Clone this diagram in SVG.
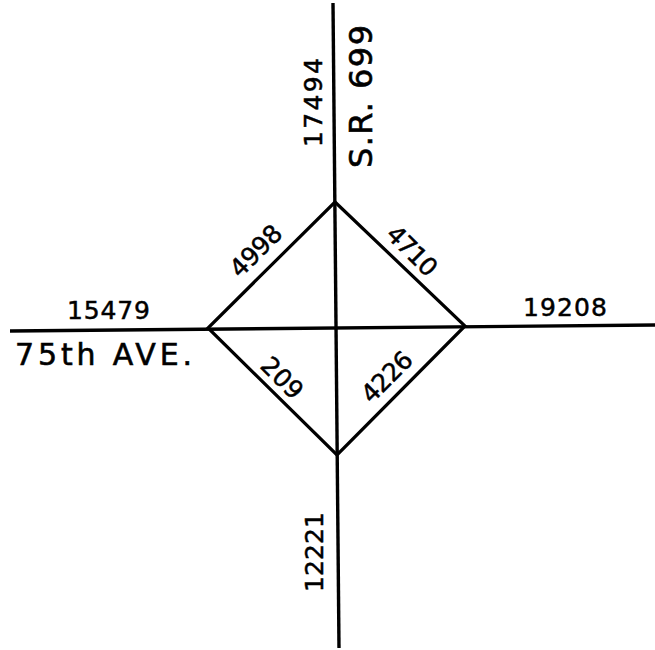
<svg xmlns="http://www.w3.org/2000/svg" width="655" height="650" viewBox="0 0 655 650">
<style>
.road{stroke:#000;stroke-width:3.4;fill:none;stroke-linecap:butt}
.ramp{stroke:#000;stroke-width:3.2;fill:none;stroke-linejoin:miter}
.num{font-family:"DejaVu Sans","Liberation Sans",Arial,sans-serif;font-size:25px;fill:#000;stroke:#000;stroke-width:0.5;text-anchor:middle}
.name{font-family:"DejaVu Sans","Liberation Sans",Arial,sans-serif;fill:#000;stroke:#000;stroke-width:0.6}
</style>
<rect width="655" height="650" fill="#fff"/>
<g id="connectors">
<line class="road" x1="333" y1="3" x2="339" y2="648"/>
<line class="road" x1="10" y1="331" x2="655" y2="325"/>
<polygon class="ramp" points="335,202 465,326 337,455 208,328"/>
</g>
<g id="sr699">
<text class="name" font-size="32" text-anchor="middle" textLength="143" lengthAdjust="spacing" transform="translate(372,96.5) rotate(-90)">S.R. 699</text>
</g>
<g id="ave75">
<text class="name" font-size="30" x="15" y="365" textLength="177" lengthAdjust="spacing">75th AVE.</text>
</g>
<g id="n17494"><text class="num" textLength="89" lengthAdjust="spacing" transform="translate(322,102.5) rotate(-90)">17494</text></g>
<g id="n12221"><text class="num" textLength="80" lengthAdjust="spacing" transform="translate(323,552) rotate(-90)">12221</text></g>
<g id="n15479"><text class="num" x="108.5" y="319" textLength="83" lengthAdjust="spacing">15479</text></g>
<g id="n19208"><text class="num" x="565" y="316" textLength="84" lengthAdjust="spacing">19208</text></g>
<g id="n4998"><text class="num" textLength="62" lengthAdjust="spacing" transform="translate(262,257) rotate(-45)">4998</text></g>
<g id="n4710"><text class="num" textLength="60" lengthAdjust="spacing" transform="translate(406,257) rotate(45)">4710</text></g>
<g id="n209"><text class="num" textLength="48" lengthAdjust="spacing" transform="translate(276,384) rotate(45)">209</text></g>
<g id="n4226"><text class="num" textLength="61" lengthAdjust="spacing" transform="translate(393,383) rotate(-45)">4226</text></g>
</svg>
